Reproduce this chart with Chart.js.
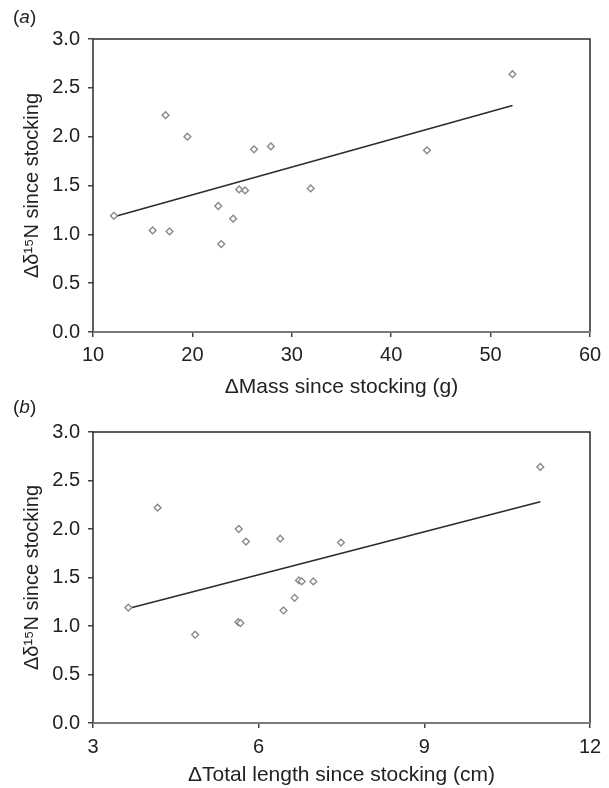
<!DOCTYPE html>
<html>
<head>
    <title>Change in d15N vs mass and length since stocking</title>
    <script src="https://cdn.jsdelivr.net/npm/chart.js"></script>
    <style>
        body {
            margin: 0;
            background: #ffffff;
            width: 609px;
            height: 788px;
            position: relative;
            overflow: hidden;
            font-family: 'Liberation Sans', Arial, sans-serif;
        }
        .panel {
            position: absolute;
            left: 0;
            width: 609px;
            height: 400px;
        }
        .tag {
            position: absolute;
            left: 13px;
            font-size: 19px;
            color: #222;
            z-index: 2;
        }
    </style>
</head>
<body>
<div class="tag" style="top: 6px;">(<i>a</i>)</div>
<div class="tag" style="top: 396px;">(<i>b</i>)</div>
<div class="panel" style="top: 0;"><canvas id="chartA" width="609" height="400"></canvas></div>
<div class="panel" style="top: 388px;"><canvas id="chartB" width="609" height="400"></canvas></div>

<script>
    // values (15 fish)
    var massX = [12.1, 16.0, 17.3, 17.7, 19.5, 22.6, 22.9, 24.1, 24.7, 25.3, 26.2, 27.9, 31.9, 43.6, 52.2];
    var massY = [1.19, 1.04, 2.22, 1.03, 2.00, 1.29, 0.90, 1.16, 1.46, 1.45, 1.87, 1.90, 1.47, 1.86, 2.64];
    var lengthX = [3.64, 4.17, 4.85, 5.64, 5.63, 5.67, 5.77, 6.39, 6.45, 6.65, 6.73, 6.78, 6.99, 7.49, 11.10];
    var lengthY = [1.19, 2.22, 0.91, 2.00, 1.04, 1.03, 1.87, 1.90, 1.16, 1.29, 1.47, 1.46, 1.46, 1.86, 2.64];

    // regression lines, endpoints
    var massFitX = [12.1, 52.2];
    var massFitY = [1.18, 2.32];
    var lengthFitX = [3.64, 11.1];
    var lengthFitY = [1.18, 2.28];

    var yTitle = 'Δδ¹⁵N since stocking';

    function toPoints(xs, ys) {
        return xs.map(function (x, i) { return { x: x, y: ys[i] }; });
    }

    // draw the box round the plot area
    var boxPlugin = {
        id: 'box',
        beforeDatasetsDraw: function (chart) {
            var a = chart.chartArea;
            var ctx = chart.ctx;
            ctx.save();
            ctx.lineWidth = 1.5;
            ctx.strokeStyle = '#2a2a2a';
            ctx.beginPath();
            ctx.moveTo(a.left, a.bottom);
            ctx.lineTo(a.left, a.top);
            ctx.lineTo(a.right, a.top);
            ctx.lineTo(a.right, a.bottom);
            ctx.stroke();
            ctx.strokeStyle = '#7a7a7a';
            ctx.lineWidth = 2;
            ctx.beginPath();
            ctx.moveTo(a.left, a.bottom);
            ctx.lineTo(a.right, a.bottom);
            ctx.stroke();
            ctx.restore();
        }
    };

    function makeChart(id, xs, ys, fitX, fitY, xMin, xMax, xStep, xTitle, topPad, xAxisH, xTickPad) {
        var fam = "'Liberation Sans', Arial, sans-serif";
        var tickFont = { family: fam, size: 20 };
        return new Chart(document.getElementById(id), {
            type: 'scatter',
            data: {
                datasets: [{
                    data: toPoints(xs, ys),
                    pointStyle: 'rectRot',
                    pointRadius: 3.4,
                    borderWidth: 1.4,
                    borderColor: '#8a8a8a',
                    backgroundColor: '#ffffff'
                }, {
                    type: 'line',
                    data: toPoints(fitX, fitY),
                    borderColor: '#2b2b2b',
                    borderWidth: 1.6,
                    pointRadius: 0,
                    fill: false
                }]
            },
            options: {
                responsive: false,
                animation: false,
                devicePixelRatio: 1,
                layout: { padding: { top: topPad, right: 19, left: 0, bottom: 0 } },
                plugins: {
                    legend: { display: false },
                    tooltip: { enabled: false }
                },
                scales: {
                    x: {
                        type: 'linear',
                        min: xMin,
                        max: xMax,
                        ticks: { stepSize: xStep, color: '#222', font: tickFont, padding: xTickPad, maxRotation: 0 },
                        grid: { drawOnChartArea: false, drawTicks: true, tickLength: 5, color: '#444', lineWidth: 1.5 },
                        border: { display: false },
                        title: { display: true, text: xTitle, color: '#222', font: { family: fam, size: 21 }, padding: { top: 0, bottom: 0 } },
                        afterFit: function (s) { s.height = xAxisH; }
                    },
                    y: {
                        min: 0,
                        max: 3,
                        ticks: {
                            stepSize: 0.5, color: '#222', font: tickFont, padding: 8,
                            callback: function (v) { return Number(v).toFixed(1); }
                        },
                        grid: { drawOnChartArea: false, drawTicks: true, tickLength: 5, color: '#444', lineWidth: 1.5 },
                        border: { display: false },
                        title: { display: true, text: yTitle, color: '#222', font: { family: fam, size: 20 }, padding: { top: 20, bottom: 0 } },
                        afterFit: function (s) { s.width = 93; }
                    }
                }
            },
            plugins: [boxPlugin]
        });
    }

    makeChart('chartA', massX, massY, massFitX, massFitY, 10, 60, 10, 'ΔMass since stocking (g)', 39, 68, 6);
    makeChart('chartB', lengthX, lengthY, lengthFitX, lengthFitY, 3, 12, 3, 'ΔTotal length since stocking (cm)', 44, 65, 7);
</script>
</body>
</html>
